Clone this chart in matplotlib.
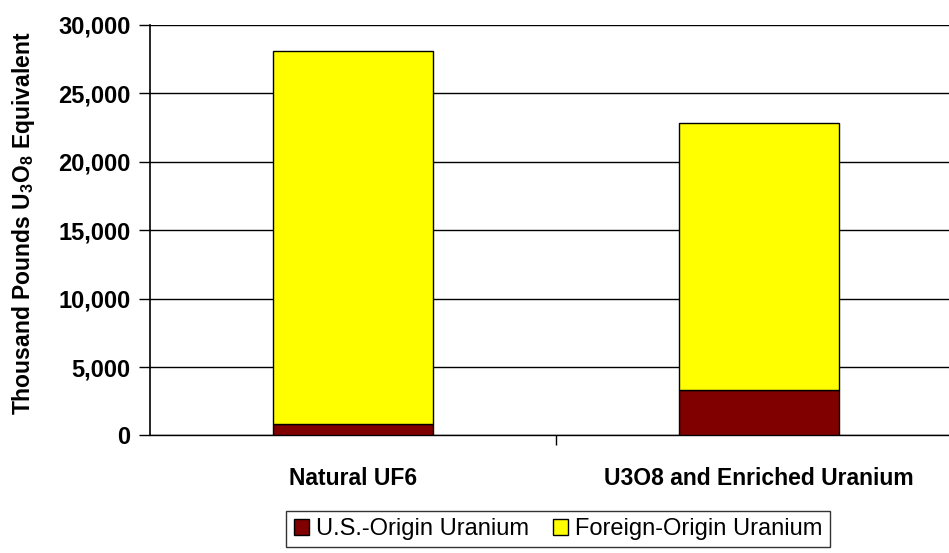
import matplotlib.pyplot as plt
from matplotlib.ticker import FuncFormatter

# Data (thousand pounds U3O8 equivalent)
categories = ["Natural UF6", "U3O8 and Enriched Uranium"]
us_origin = [850, 3300]
foreign_origin = [27200, 19500]
series_labels = ["U.S.-Origin Uranium", "Foreign-Origin Uranium"]

plt.rcParams['font.family'] = ['Liberation Sans', 'DejaVu Sans']
plt.rcParams['mathtext.fontset'] = 'custom'
plt.rcParams['mathtext.rm'] = 'Liberation Sans:bold'
plt.rcParams['mathtext.bf'] = 'Liberation Sans:bold'

fig = plt.figure(figsize=(9.49, 5.53), dpi=100)
ax = fig.add_axes([0.158, 0.2125, 0.8556, 0.743])

x = range(len(categories))
w = 0.395
ax.bar(x, us_origin, width=w, color="#800000", edgecolor="black", linewidth=1,
       label=series_labels[0], zorder=3)
ax.bar(x, foreign_origin, width=w, bottom=us_origin, color="#FFFF00",
       edgecolor="black", linewidth=1, label=series_labels[1], zorder=3)

ax.set_xlim(-0.5, 1.5)
ax.set_ylim(0, 30000)
ax.set_yticks(range(0, 30001, 5000))
ax.yaxis.set_major_formatter(FuncFormatter(lambda v, p: f"{int(v):,}"))
ax.grid(axis="y", color="black", linewidth=1, zorder=0)

ax.set_xticks(list(x))
ax.set_xticklabels(categories, fontsize=16.5, fontweight="bold")
ax.tick_params(axis="x", which="major", length=0, pad=23)
ax.set_xticks([0.5], minor=True)
ax.tick_params(axis="x", which="minor", length=7, width=1, color="black")
ax.tick_params(axis="y", length=8, width=1, labelsize=17, pad=6)
for lab in ax.get_yticklabels():
    lab.set_fontweight("bold")

for s in ["top", "right"]:
    ax.spines[s].set_visible(False)
ax.spines["left"].set_linewidth(1.2)
ax.spines["bottom"].set_linewidth(1)

fig.text(24 / 949, 1 - 223 / 553, r"Thousand Pounds U$_3$O$_8$ Equivalent",
         rotation=90, ha="center", va="center", fontsize=16.5, fontweight="bold")

leg = fig.legend(loc="center", bbox_to_anchor=(558 / 949, 1 - 529 / 553), ncol=2,
                 fontsize=17, frameon=True, fancybox=False, edgecolor="black",
                 handlelength=0.65, handleheight=0.65, handletextpad=0.3,
                 columnspacing=1.0, borderpad=0.3, borderaxespad=0)
leg.get_frame().set_linewidth(1)

fig.savefig("out.png", dpi=100)
